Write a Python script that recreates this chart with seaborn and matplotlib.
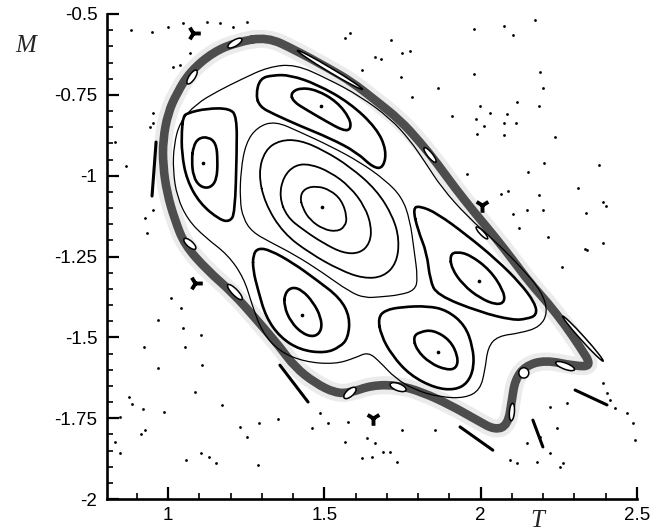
import matplotlib
matplotlib.use("Agg")
import matplotlib.pyplot as plt
import seaborn as sns
from matplotlib.patches import Ellipse, PathPatch
from matplotlib.path import Path

# ---------------- data (in T / M units) ----------------
# central island family
c1_t = [1.422, 1.438, 1.476, 1.518, 1.555, 1.573, 1.566, 1.540, 1.497, 1.454, 1.431]
c1_m = [-1.065, -1.039, -1.032, -1.044, -1.075, -1.127, -1.158, -1.173, -1.166, -1.137, -1.101]
c2_t = [1.356, 1.369, 1.406, 1.454, 1.518, 1.582, 1.630, 1.651, 1.646, 1.614, 1.561, 1.497, 1.433, 1.380]
c2_m = [-1.065, -1.003, -0.967, -0.964, -0.988, -1.034, -1.096, -1.158, -1.209, -1.240, -1.240, -1.209, -1.168, -1.127]
c3_t = [1.289, 1.310, 1.358, 1.422, 1.497, 1.582, 1.667, 1.720, 1.740, 1.731, 1.689, 1.625, 1.550, 1.454, 1.369, 1.310]
c3_m = [-0.993, -0.921, -0.890, -0.890, -0.921, -0.972, -1.044, -1.127, -1.199, -1.271, -1.313, -1.318, -1.292, -1.240, -1.178, -1.086]
c4_t = [1.230, 1.233, 1.249, 1.285, 1.342, 1.422, 1.518, 1.614, 1.694, 1.748, 1.774, 1.787, 1.799, 1.790, 1.742,
        1.678, 1.630, 1.582, 1.492, 1.406, 1.326, 1.269, 1.240]
c4_m = [-1.075, -0.983, -0.899, -0.850, -0.831, -0.865, -0.908, -0.958, -1.013, -1.066, -1.137, -1.230, -1.317, -1.354,
        -1.369, -1.375, -1.378, -1.360, -1.298, -1.245, -1.205, -1.174, -1.131]

# satellite islands (inner / outer rings)
top_in_t = [1.392, 1.422, 1.476, 1.540, 1.582, 1.585, 1.561, 1.508, 1.444, 1.401]
top_in_m = [-0.745, -0.728, -0.735, -0.771, -0.823, -0.857, -0.861, -0.833, -0.797, -0.771]
top_out_t = [1.281, 1.294, 1.337, 1.390, 1.476, 1.582, 1.667, 1.699, 1.689, 1.657, 1.603, 1.518, 1.422, 1.337, 1.294]
top_out_m = [-0.751, -0.699, -0.689, -0.689, -0.717, -0.775, -0.853, -0.921, -0.976, -0.976, -0.927, -0.884, -0.846, -0.809, -0.787]

left_in_t = [1.081, 1.097, 1.129, 1.154, 1.159, 1.156, 1.134, 1.102, 1.081, 1.076]
left_in_m = [-0.910, -0.884, -0.880, -0.900, -0.952, -1.013, -1.039, -1.034, -1.003, -0.952]
left_out_t = [1.049, 1.060, 1.124, 1.198, 1.220, 1.220, 1.214, 1.198, 1.166, 1.102, 1.060, 1.044, 1.044]
left_out_m = [-0.818, -0.807, -0.792, -0.792, -0.818, -0.931, -1.116, -1.142, -1.137, -1.086, -1.013, -0.931, -0.859]

ll_in_t = [1.374, 1.397, 1.429, 1.464, 1.489, 1.492, 1.470, 1.432, 1.393, 1.371]
ll_in_m = [-1.363, -1.344, -1.354, -1.391, -1.437, -1.477, -1.499, -1.490, -1.453, -1.403]
ll_out_t = [1.272, 1.288, 1.326, 1.400, 1.476, 1.550, 1.582, 1.576, 1.550, 1.502, 1.422, 1.358, 1.313, 1.288, 1.272]
ll_out_m = [-1.245, -1.224, -1.230, -1.270, -1.323, -1.378, -1.437, -1.502, -1.530, -1.549, -1.539, -1.499, -1.437, -1.354, -1.292]

lr_in_t = [1.784, 1.806, 1.848, 1.902, 1.928, 1.923, 1.891, 1.838, 1.795]
lr_in_m = [-1.498, -1.483, -1.477, -1.508, -1.560, -1.596, -1.601, -1.580, -1.539]
lr_out_t = [1.672, 1.694, 1.748, 1.831, 1.892, 1.950, 1.975, 1.979, 1.959, 1.918, 1.854, 1.774, 1.716, 1.681]
lr_out_m = [-1.440, -1.416, -1.406, -1.403, -1.416, -1.462, -1.530, -1.592, -1.641, -1.663, -1.657, -1.617, -1.555, -1.493]

rt_in_t = [1.902, 1.923, 1.966, 2.030, 2.072, 2.078, 2.051, 1.998, 1.944, 1.907]
rt_in_m = [-1.245, -1.235, -1.245, -1.292, -1.354, -1.390, -1.400, -1.379, -1.338, -1.287]
rt_out_t = [1.783, 1.806, 1.860, 1.956, 2.052, 2.126, 2.174, 2.180, 2.148, 2.103, 1.998, 1.860, 1.838, 1.828, 1.799]
rt_out_m = [-1.100, -1.094, -1.116, -1.184, -1.261, -1.332, -1.394, -1.431, -1.443, -1.447, -1.422, -1.369, -1.323, -1.239, -1.168]

# island centres (elliptic points)
centre_t = [1.493, 1.489, 1.111, 1.429, 1.863, 1.995]
centre_m = [-1.096, -0.785, -0.962, -1.431, -1.545, -1.326]

# outermost regular curve
o1_t = [1.406, 1.512, 1.614, 1.710, 1.774, 1.822, 1.876, 1.956, 2.052, 2.132, 2.196, 2.215, 2.190, 2.126, 2.055, 2.023,
        2.014, 1.998, 1.950, 1.870, 1.790, 1.726, 1.678, 1.640, 1.598, 1.534, 1.438, 1.358, 1.301, 1.269, 1.243, 1.192,
        1.118, 1.064, 1.029, 1.016, 1.019, 1.038, 1.090, 1.160, 1.237, 1.320]
o1_m = [-0.655, -0.701, -0.754, -0.822, -0.890, -0.958, -1.038, -1.125, -1.208, -1.286, -1.360, -1.422, -1.468, -1.487,
        -1.496, -1.530, -1.601, -1.663, -1.688, -1.685, -1.663, -1.626, -1.576, -1.545, -1.564, -1.583, -1.576, -1.545,
        -1.484, -1.400, -1.317, -1.245, -1.190, -1.137, -1.066, -0.983, -0.905, -0.834, -0.778, -0.738, -0.701, -0.664]

# chaotic layer (centre line of the dense band)
band_t = [1.317, 1.406, 1.512, 1.588, 1.662, 1.742, 1.806, 1.860, 1.918, 1.982, 2.046, 2.103, 2.158, 2.215, 2.270,
          2.318, 2.356, 2.302, 2.206, 2.142, 2.110, 2.100, 2.087, 2.046, 1.988, 1.902, 1.812, 1.736, 1.652, 1.582,
          1.534, 1.470, 1.406, 1.358, 1.285, 1.208, 1.125, 1.054, 1.022, 0.997, 0.984, 0.984, 1.000, 1.029, 1.070,
          1.144, 1.221]
band_m = [-0.571, -0.611, -0.667, -0.710, -0.766, -0.828, -0.896, -0.961, -1.038, -1.116, -1.190, -1.261, -1.332,
          -1.394, -1.462, -1.530, -1.589, -1.589, -1.570, -1.589, -1.632, -1.694, -1.771, -1.787, -1.756, -1.709,
          -1.669, -1.648, -1.648, -1.672, -1.672, -1.641, -1.592, -1.530, -1.447, -1.363, -1.292, -1.215, -1.137,
          -1.054, -0.967, -0.890, -0.806, -0.744, -0.679, -0.618, -0.587]

# small islands embedded in the chaotic layer: centre, length, width, tilt (deg)
isl_t = [1.214, 1.077, 1.070, 1.214, 1.582, 1.736, 2.100, 2.138, 2.270, 1.838, 2.004, 1.518, 2.327]
isl_m = [-0.590, -0.695, -1.211, -1.360, -1.672, -1.654, -1.731, -1.610, -1.589, -0.936, -1.177, -0.673, -1.504]
isl_len = [0.051, 0.051, 0.048, 0.064, 0.048, 0.054, 0.054, 0.032, 0.064, 0.058, 0.051, 0.240, 0.190]
isl_wid = [0.019, 0.019, 0.019, 0.019, 0.022, 0.022, 0.016, 0.032, 0.019, 0.016, 0.013, 0.013, 0.013]
isl_ang = [30, 55, -40, -45, 40, -20, 85, 0, -20, -50, -45, -30, -47]

# thin elongated islands outside the layer (start / end)
seg_t0 = [0.962, 2.302, 2.167, 1.934, 1.358]
seg_m0 = [-0.896, -1.663, -1.756, -1.777, -1.586]
seg_t1 = [0.949, 2.404, 2.199, 2.039, 1.448]
seg_m1 = [-1.063, -1.709, -1.839, -1.849, -1.700]

# three-lobed island chains
tri_t = [1.080, 1.086, 1.656, 2.004]
tri_m = [-0.559, -1.332, -1.750, -1.091]
tri_mk = ['4', '4', '1', '1']

# scattered orbit points outside the layer
pts_t = [0.882, 0.949, 0.831, 0.866, 0.952, 1.016, 0.875, 0.885, 0.920, 0.987, 1.086, 1.173, 0.846, 0.831, 0.846,
         0.914, 0.926, 1.058, 1.106, 1.131, 1.154, 1.230, 1.253, 1.291, 1.352, 1.288, 1.979, 2.075, 2.103, 2.174,
         1.979, 2.190, 2.199, 2.116, 1.998, 2.030, 2.084, 1.985, 2.011, 2.075, 2.113, 1.988, 2.075, 2.186, 1.908,
         2.238, 2.202, 2.378, 2.151, 1.956, 2.311, 2.087, 2.186, 2.391, 2.401, 2.065, 2.148, 2.199, 2.337, 2.103,
         2.122, 2.215, 2.391, 2.334, 1.582, 1.566, 1.713, 1.748, 1.774, 1.662, 1.681, 1.620, 1.745, 1.863, 1.780,
         0.968, 0.923, 1.048, 1.054, 1.106, 1.109, 0.968, 1.010, 1.042, 1.566, 1.620, 1.652, 1.688, 1.710, 1.732,
         1.461, 1.486, 1.512, 1.576, 1.636, 1.662, 1.748, 1.854, 2.260, 2.340, 2.391, 2.404, 2.276, 2.222, 2.244,
         2.222, 2.116, 2.254, 2.263, 2.190, 2.148, 2.094, 2.493, 2.487, 2.468, 2.429, 2.413, 2.180, 1.000, 1.048,
         1.125, 1.166, 1.208, 1.253, 1.070, 1.038, 0.952, 0.942, 0.926, 0.933, 0.952]
pts_m = [-0.549, -0.556, -0.896, -0.970, -0.806, -0.664, -1.685, -1.706, -1.722, -1.731, -1.669, -1.709, -1.747,
         -1.824, -1.858, -1.799, -1.787, -1.880, -1.858, -1.870, -1.889, -1.777, -1.809, -1.765, -1.753, -1.895,
         -0.546, -0.537, -0.565, -0.519, -0.686, -0.679, -0.729, -0.772, -0.785, -0.806, -0.809, -0.825, -0.846,
         -0.837, -0.837, -0.871, -0.874, -0.785, -0.815, -0.880, -0.961, -0.967, -0.989, -0.995, -1.038, -1.047,
         -1.060, -1.082, -1.094, -1.057, -1.106, -1.106, -1.116, -1.119, -1.162, -1.190, -1.208, -1.227, -0.559,
         -0.574, -0.580, -0.621, -0.614, -0.633, -0.639, -0.673, -0.695, -0.729, -0.757, -1.447, -1.530, -1.471,
         -1.530, -1.493, -1.586, -1.595, -1.378, -1.409, -1.824, -1.873, -1.870, -1.855, -1.855, -1.886, -1.781,
         -1.734, -1.765, -1.762, -1.812, -1.827, -1.787, -1.787, -1.283, -1.230, -1.641, -1.672, -1.703, -1.716,
         -1.781, -1.858, -1.889, -1.901, -1.889, -1.809, -1.827, -1.880, -1.818, -1.765, -1.734, -1.719, -1.694,
         -1.886, -0.540, -0.528, -0.525, -0.528, -0.540, -0.525, -0.621, -0.658, -0.837, -0.850, -1.131, -1.177,
         -1.106]

x_ticks = [1, 1.5, 2, 2.5]
x_labels = ['1', '1.5', '2', '2.5']
y_ticks = [-2, -1.75, -1.5, -1.25, -1, -0.75, -0.5]
y_labels = ['-2', '-1.75', '-1.5', '-1.25', '-1', '-0.75', '-0.5']
x_minor = [0.9, 1.1, 1.2, 1.3, 1.4, 1.6, 1.7, 1.8, 1.9, 2.1, 2.2, 2.3, 2.4]
y_minor = [-1.95, -1.9, -1.85, -1.8, -1.7, -1.65, -1.6, -1.55, -1.45, -1.4, -1.35, -1.3, -1.2, -1.15, -1.1, -1.05,
           -0.95, -0.9, -0.85, -0.8, -0.7, -0.65, -0.6, -0.55]

# ---------------- drawing ----------------
sns.set_style("ticks")
plt.rcParams['font.family'] = ['Liberation Sans', 'DejaVu Sans']

fig = plt.figure(figsize=(6.72, 5.31), dpi=100)
ax = fig.add_axes([107 / 672, 32 / 531, 530 / 672, 485 / 531])


def closed(xs, ys, lw, color='black', z=3, alpha=1.0):
    """Closed smooth outline: the read points act as quadratic Bezier control points."""
    n = len(xs)
    verts, codes = [], []
    start = ((xs[-1] + xs[0]) / 2, (ys[-1] + ys[0]) / 2)
    verts.append(start)
    codes.append(Path.MOVETO)
    for i in range(n):
        j = (i + 1) % n
        verts.append((xs[i], ys[i]))
        verts.append(((xs[i] + xs[j]) / 2, (ys[i] + ys[j]) / 2))
        codes += [Path.CURVE3, Path.CURVE3]
    patch = PathPatch(Path(verts, codes), facecolor='none', edgecolor=color, lw=lw,
                      zorder=z, alpha=alpha, joinstyle='round', capstyle='round')
    ax.add_patch(patch)


# chaotic layer: sparse halo + dense core
closed(band_t, band_m, 13, color='0.85', z=1, alpha=0.5)
closed(band_t, band_m, 6.2, color='0.30', z=2)

# regular curves
closed(o1_t, o1_m, 0.9)
closed(c4_t, c4_m, 0.9)
for xs, ys in [(c1_t, c1_m), (c2_t, c2_m), (c3_t, c3_m)]:
    closed(xs, ys, 1.3)
for xs, ys in [(top_in_t, top_in_m), (top_out_t, top_out_m), (left_in_t, left_in_m), (left_out_t, left_out_m),
               (ll_in_t, ll_in_m), (ll_out_t, ll_out_m), (lr_in_t, lr_in_m), (lr_out_t, lr_out_m),
               (rt_in_t, rt_in_m), (rt_out_t, rt_out_m)]:
    closed(xs, ys, 1.9)

# islands inside the layer
for t, m, ln, wd, an in zip(isl_t, isl_m, isl_len, isl_wid, isl_ang):
    ax.add_patch(Ellipse((t, m), ln, wd, angle=an, facecolor='white', edgecolor='black', lw=1.1, zorder=4))

# elongated islands outside
for a, b, c, d in zip(seg_t0, seg_m0, seg_t1, seg_m1):
    sns.lineplot(x=[a, c], y=[b, d], sort=False, estimator=None, ax=ax, color='black', lw=2.2,
                 solid_capstyle='round', zorder=4)

# scattered points and elliptic centres
sns.scatterplot(x=pts_t, y=pts_m, s=4, color='black', linewidth=0, ax=ax, zorder=5)
sns.scatterplot(x=centre_t, y=centre_m, s=7, color='black', linewidth=0, ax=ax, zorder=5)
for t, m, mk in zip(tri_t, tri_m, tri_mk):
    sns.scatterplot(x=[t], y=[m], marker=mk, s=110, color='black', linewidth=2.8, ax=ax, zorder=5)

# axes styling
ax.set_xlim(0.805, 2.5)
ax.set_ylim(-2, -0.5)
ax.set_xticks(x_ticks)
ax.set_xticklabels(x_labels)
ax.set_yticks(y_ticks)
ax.set_yticklabels(y_labels)
ax.set_xticks(x_minor, minor=True)
ax.set_yticks(y_minor, minor=True)
ax.tick_params(which='major', direction='in', length=8.5, width=1.6, labelsize=13.5, color='black',
               labelcolor='black')
ax.tick_params(axis='x', which='major', pad=6)
ax.tick_params(axis='y', which='major', pad=7)
ax.tick_params(which='minor', direction='in', length=4.5, width=1.2, color='black')
for s in ['top', 'right']:
    ax.spines[s].set_visible(False)
for s in ['left', 'bottom']:
    ax.spines[s].set_linewidth(1.9)
    ax.spines[s].set_color('black')
ax.set_xlabel('')
ax.set_ylabel('')

fig.text(26 / 672, 1 - 46.5 / 531, 'M', family='Liberation Serif', style='italic', size=18,
         ha='center', va='center')
fig.text(537 / 672, 1 - 521 / 531, 'T', family='Liberation Serif', style='italic', size=18,
         ha='center', va='center')

fig.savefig('out.png', dpi=100)
